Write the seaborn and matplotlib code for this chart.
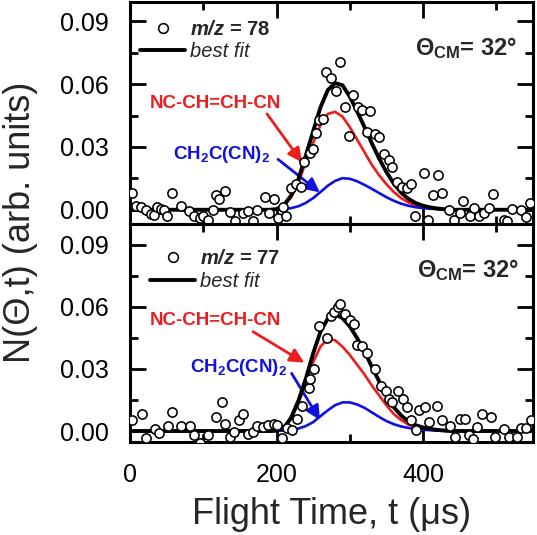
import matplotlib
matplotlib.use("Agg")
import matplotlib.pyplot as plt
from matplotlib.lines import Line2D
from matplotlib.patches import ArrowStyle
from matplotlib.ticker import MultipleLocator
import seaborn as sns
import pandas as pd

# ---------------- data ----------------
# top panel, m/z = 78 : measured points
top_t = [3, 8, 15, 22, 28, 33, 37, 42, 47, 51, 58, 69, 81, 88, 95, 99, 106, 113, 117, 122,
         130, 136, 143, 154, 161, 168, 174, 184, 190, 196, 202, 209, 213, 220, 227, 234, 238,
         245, 250, 254, 258, 264, 268, 274, 281, 286, 293, 299, 305, 311, 317, 323, 328, 334,
         340, 347, 353, 358, 365, 371, 378, 383, 389, 401, 407, 414, 420, 426, 435, 442, 451,
         455, 464, 469, 476, 483, 490, 496, 510, 515, 522, 533, 540, 546]
top_n = [0.0079, 0.0019, 0.0013, 0.0, -0.0019, -0.0024, 0.0013, 0.0003, -0.0003, -0.0032,
         0.0082, 0.0016, -0.0008, -0.0028, -0.0040, -0.0032, -0.0047, -0.0003, 0.0071, 0.0051,
         0.0092, -0.0013, -0.0055, -0.0016, -0.0008, -0.0055, 0.0, 0.0063, -0.0016, 0.0051,
         -0.0040, 0.0013, -0.0028, 0.0103, 0.0123, 0.0111, 0.0229, 0.0269, 0.0292, 0.0367,
         0.0427, 0.0435, 0.0660, 0.0629, 0.0569, 0.0706, 0.0490, 0.0351, 0.0550, 0.0490,
         0.0477, 0.0371, 0.0471, 0.0363, 0.0348, 0.0265, 0.0240, 0.0205, 0.0134, 0.0111,
         0.0103, 0.0123, -0.0032, 0.0174, -0.0047, 0.0071, 0.0166, 0.0079, 0.0, -0.0047,
         -0.0016, 0.0040, -0.0028, 0.0008, -0.0028, -0.0016, 0.0008, 0.0076, -0.0047, -0.0055,
         0.0003, -0.0003, -0.0035, 0.0032]

# bottom panel, m/z = 77 : measured points
bot_t = [3, 16, 22, 34, 40, 52, 58, 70, 82, 88, 95, 106, 118, 125, 130, 136, 142, 149, 154,
         161, 168, 173, 182, 189, 196, 200, 207, 214, 221, 228, 235, 244, 246, 251, 258, 269,
         274, 278, 284, 287, 294, 300, 306, 310, 317, 324, 335, 342, 349, 353, 358, 366, 372,
         378, 384, 390, 395, 402, 408, 419, 426, 437, 444, 450, 457, 462, 468, 474, 480, 492,
         498, 510, 517, 528, 534, 540, 547]
bot_n = [0.0052, 0.0081, -0.0035, 0.0008, -0.0011, 0.0024, 0.0092, 0.0024, 0.0024, -0.0019,
         -0.0058, -0.0019, 0.0068, 0.0142, 0.0036, -0.0027, -0.0003, 0.0055, 0.0081, -0.0014,
         -0.0003, 0.0024, 0.0021, 0.0028, 0.0036, 0.0028, -0.0035, 0.0013, 0.0005, 0.0060,
         0.0123, 0.0210, 0.0250, 0.0300, 0.0506, 0.0447, 0.0553, 0.0574, 0.0597, 0.0613,
         0.0566, 0.0534, 0.0518, 0.0416, 0.0408, 0.0376, 0.0297, 0.0218, 0.0194, 0.0155,
         0.0139, 0.0194, 0.0155, 0.0118, 0.0052, 0.0005, 0.0100, 0.0118, 0.0044, 0.0123,
         0.0052, 0.0024, -0.0027, 0.0057, 0.0060, -0.0019, -0.0040, 0.0021, 0.0081, 0.0068,
         -0.0027, 0.0008, -0.0027, -0.0027, 0.0013, 0.0013, 0.0052]

# fit curves
fit_t = [0, 190, 200, 210, 220, 230, 240, 250, 260, 270, 280, 290, 300, 310, 320, 330, 340,
         350, 360, 370, 380, 390, 400, 410, 420, 430, 440, 550]
top_total = [0, 0, 0.0003, 0.0022, 0.0068, 0.0148, 0.026, 0.0375, 0.049, 0.0572, 0.0605,
             0.0595, 0.054, 0.047, 0.0395, 0.0318, 0.0245, 0.018, 0.0125, 0.0082, 0.0052,
             0.0032, 0.0019, 0.0011, 0.0006, 0.0002, 0, 0]
top_fumaro = [None, 0, 0.0002, 0.0019, 0.006, 0.0132, 0.0228, 0.032, 0.0405, 0.0458, 0.0468,
              0.0445, 0.0395, 0.0335, 0.0275, 0.0215, 0.0165, 0.0122, 0.0085, 0.0056, 0.0035,
              0.0021, 0.0012, 0.0007, 0.0003, 0.0001, 0, None]
top_malono = [None, 0, 0, 0.0003, 0.0008, 0.0017, 0.0033, 0.0056, 0.0085, 0.0115, 0.0138,
              0.0151, 0.0148, 0.0136, 0.0119, 0.0100, 0.0080, 0.0060, 0.0043, 0.0029, 0.0019,
              0.0012, 0.0008, 0.0005, 0.0003, 0.0001, 0, None]
bot_total = [0, 0, 0.0002, 0.0015, 0.0065, 0.0148, 0.0253, 0.0375, 0.048, 0.0543, 0.0563,
             0.0545, 0.0505, 0.0448, 0.0385, 0.031, 0.024, 0.0172, 0.0115, 0.0075, 0.0046,
             0.0028, 0.0017, 0.001, 0.0005, 0.0002, 0, 0]
bot_fumaro = [None, 0, 0.0002, 0.0013, 0.0059, 0.0136, 0.0229, 0.0332, 0.0408, 0.0443, 0.0438,
              0.0407, 0.0367, 0.032, 0.0273, 0.022, 0.0172, 0.0124, 0.0082, 0.0053, 0.0031,
              0.0019, 0.0011, 0.0006, 0.0003, 0.0001, 0, None]
bot_malono = [None, 0, 0, 0.0002, 0.0006, 0.0012, 0.0024, 0.0043, 0.0072, 0.0100, 0.0125,
              0.0138, 0.0138, 0.0128, 0.0112, 0.0090, 0.0068, 0.0048, 0.0033, 0.0022, 0.0015,
              0.0009, 0.0006, 0.0004, 0.0002, 0.0001, 0, None]

x_ticks = [0, 200, 400]
y_ticks = [0.00, 0.03, 0.06, 0.09]
y_ticklabels = ["0.00", "0.03", "0.06", "0.09"]
mz_labels = ["78", "77"]
theta_label = "32°"

# ---------------- style ----------------
sns.set_theme(style="ticks")
plt.rcParams["font.family"] = ["Liberation Sans", "DejaVu Sans"]
plt.rcParams["mathtext.fontset"] = "custom"
plt.rcParams["mathtext.rm"] = "Liberation Sans"
plt.rcParams["mathtext.it"] = "Liberation Sans:italic"
plt.rcParams["mathtext.bf"] = "Liberation Sans:bold"
try:
    plt.rcParams["mathtext.bfit"] = "Liberation Sans:italic:bold"
    MZ = r"$\mathbfit{m/z}$"
except KeyError:
    MZ = r"$\mathbf{m/z}$"

RED = "#ee1c1c"
BLUE = "#1010e0"

fig = plt.figure(figsize=(5.37, 5.35), dpi=100)
W, H = 537, 535
ax_top = fig.add_axes([130 / W, 1 - 224 / H, 403 / W, 222.5 / H])
ax_bot = fig.add_axes([130 / W, 1 - 442 / H, 403 / W, 218 / H])

panels = [
    dict(ax=ax_top, t=top_t, n=top_n, tot=top_total, fu=top_fumaro, ma=top_malono,
         ylim=(-0.0068, 0.0995), mz=mz_labels[0],
         leg_anchor=(0.025, 0.918), labsp=0.15,
         red_txt=(27, 0.0486), blue_txt=(59, 0.0241),
         red_arr=((187, 0.0458), (234.7, 0.0227)), blue_arr=((202, 0.0241), (259, 0.0083)),
         theta=(389, 0.0772)),
    dict(ax=ax_bot, t=bot_t, n=bot_n, tot=bot_total, fu=bot_fumaro, ma=bot_malono,
         ylim=(-0.0053, 0.0999), mz=mz_labels[1],
         leg_anchor=(0.05, 0.884), labsp=0.2,
         red_txt=(27, 0.0511), blue_txt=(82, 0.0286),
         red_arr=((168, 0.0479), (237.8, 0.0330)), blue_arr=((220.6, 0.0278), (259.2, 0.0053)),
         theta=(391.5, 0.0777)),
]

astyle = ArrowStyle("-|>", head_length=0.6, head_width=0.3)

for p in panels:
    ax = p["ax"]
    df = pd.DataFrame({"t": fit_t, "tot": p["tot"], "fu": p["fu"], "ma": p["ma"]})
    dfr = df.dropna()
    sns.lineplot(data=dfr, x="t", y="fu", ax=ax, color=RED, linewidth=1.9,
                 estimator=None, sort=False, zorder=2)
    sns.lineplot(data=dfr, x="t", y="ma", ax=ax, color=BLUE, linewidth=1.9,
                 estimator=None, sort=False, zorder=3)
    sns.lineplot(data=df, x="t", y="tot", ax=ax, color="black", linewidth=2.8,
                 estimator=None, sort=False, zorder=4)
    sns.scatterplot(x=p["t"], y=p["n"], ax=ax, s=44, color="white", edgecolor="black",
                    linewidth=1.15, zorder=5, clip_on=True)

    ax.set_xlim(0, 550)
    ax.set_ylim(*p["ylim"])
    ax.set_xticks(x_ticks)
    ax.xaxis.set_minor_locator(MultipleLocator(100))
    ax.set_yticks(y_ticks)
    ax.set_yticklabels(y_ticklabels)
    ax.yaxis.set_minor_locator(MultipleLocator(0.015))
    ax.tick_params(which="both", direction="in", top=True, right=True, width=2.0,
                   labelsize=18, pad=15, color="black", labelcolor="black")
    ax.tick_params(which="major", length=11.5)
    ax.tick_params(which="minor", length=6)
    for s in ax.spines.values():
        s.set_linewidth(2.2)
        s.set_color("black")
    ax.set_xlabel("")
    ax.set_ylabel("")

    # legend
    handles = [Line2D([], [], marker="o", linestyle="none", markersize=7,
                      markerfacecolor="white", markeredgecolor="black", markeredgewidth=1.15),
               Line2D([], [], color="black", linewidth=2.8)]
    leg = ax.legend(handles, [MZ + " = " + p["mz"], "best fit"], loc="upper left",
                    bbox_to_anchor=p["leg_anchor"], frameon=False, fontsize=14.5,
                    handlelength=2.25, handletextpad=0.25, borderpad=0, borderaxespad=0,
                    labelspacing=p["labsp"])
    leg.get_texts()[0].set_fontweight("bold")
    leg.get_texts()[1].set_fontstyle("italic")

    # theta label
    ax.text(*p["theta"], "Θ" + r"$_{\mathbf{CM}}$" + "= " + theta_label, fontsize=17,
            fontweight="bold", ha="left", va="center")

    # component labels and arrows
    ax.text(*p["red_txt"], "NC-CH=CH-CN", color=RED, fontsize=13.5, fontweight="bold",
            ha="left", va="baseline")
    ax.text(*p["blue_txt"], r"CH$_{\mathbf{2}}$C(CN)$_{\mathbf{2}}$", color=BLUE,
            fontsize=13.5, fontweight="bold", ha="left", va="baseline")
    (rs, re_) = p["red_arr"]
    ax.annotate("", xy=re_, xytext=rs,
                arrowprops=dict(arrowstyle=astyle, color=RED, lw=2.0, mutation_scale=14,
                                shrinkA=0, shrinkB=0))
    (bs, be) = p["blue_arr"]
    ax.annotate("", xy=be, xytext=bs,
                arrowprops=dict(arrowstyle=astyle, color=BLUE, lw=2.0, mutation_scale=14,
                                shrinkA=0, shrinkB=0))

ax_top.tick_params(labelbottom=False)

fig.text(331.5 / W, 1 - 515 / H, "Flight Time, t (μs)", fontsize=26, ha="center", va="center")
fig.text(21 / W, 1 - 222 / H, "N(Θ,t) (arb. units)", fontsize=26, ha="center", va="center",
         rotation=90)

fig.savefig("out.png", dpi=100)
